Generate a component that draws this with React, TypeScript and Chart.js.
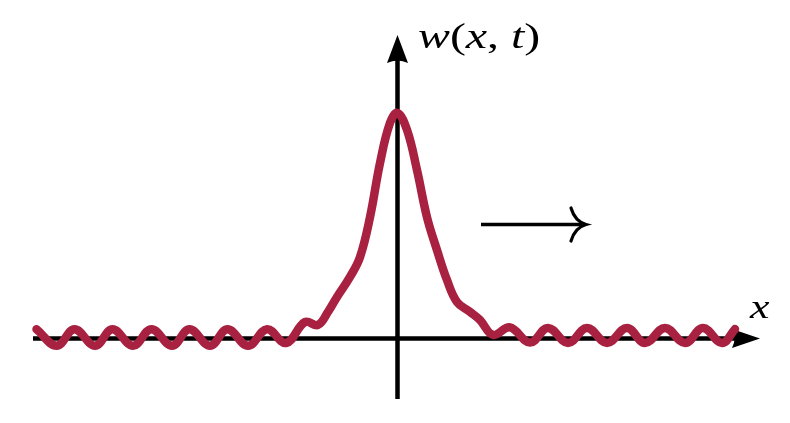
import React, { useEffect, useRef } from "react";
import { Chart, registerables } from "chart.js";

Chart.register(...registerables);

// Wave packet w(x, t): positions along x (period ≈ 1 unit) and heights (peak = 1)
const waveX = [
  -9.377, -8.852, -8.39, -7.857, -7.403, -6.87, -6.39, -5.857, -5.403, -4.87, -4.416, -3.883, -3.39,
  -2.896, -2.403, -2.065, -1.805, -1.571, -1.234, -0.974, -0.714, -0.455, -0.195, 0.0,
  0.247, 0.506, 0.766, 1.026, 1.286, 1.545, 1.883, 2.143, 2.481,
  2.922, 3.442, 3.909, 4.429, 4.922, 5.442, 5.961, 6.429, 6.948, 7.468, 7.935, 8.429, 8.766,
];
const waveY = [
  0.041, -0.032, 0.041, -0.032, 0.041, -0.032, 0.041, -0.032, 0.041, -0.032, 0.041, -0.032, 0.041,
  -0.02, 0.073, 0.06, 0.118, 0.184, 0.273, 0.361, 0.538, 0.778, 0.956, 1.0,
  0.925, 0.747, 0.538, 0.392, 0.259, 0.162, 0.118, 0.082, 0.016,
  0.049, -0.018, 0.047, -0.02, 0.047, -0.02, 0.047, -0.02, 0.047, -0.02, 0.047, -0.02, 0.042,
];

// Axis range
const X_MIN = -10.325;
const X_MAX = 10.195;
const Y_MIN = -0.3747;
const Y_MAX = 1.501;

// Decorations (data units)
const H_AXIS = { from: -9.468, tip: 9.416 };
const V_AXIS = { from: -0.268, tip: 1.346 };
const DIR_ARROW = { from: 2.169, to: 4.896, y: 0.5055 };
const Y_LABEL = { x: 0.532, y: 1.287 };
const X_LABEL = { x: 9.156, y: 0.0896 };

const CURVE = "rgb(168, 33, 64)";

type Part = [string, boolean];

function drawMath(ctx: CanvasRenderingContext2D, parts: Part[], left: number, baseline: number, size: number, stretch: number) {
  ctx.save();
  ctx.translate(left, baseline);
  ctx.scale(stretch, 1);
  ctx.textBaseline = "alphabetic";
  ctx.textAlign = "left";
  let cx = 0;
  for (const [t, it] of parts) {
    ctx.font = `${it ? "italic " : ""}${size}px "Liberation Serif", "DejaVu Serif", serif`;
    ctx.fillText(t, cx, 0);
    cx += ctx.measureText(t).width;
  }
  ctx.restore();
}

const decor = {
  id: "decor",
  beforeDatasetsDraw(chart: any) {
    const { ctx, scales } = chart;
    const px = (u: number) => scales.x.getPixelForValue(u);
    const py = (v: number) => scales.y.getPixelForValue(v);
    ctx.save();
    ctx.strokeStyle = "#000";
    ctx.fillStyle = "#000";

    // horizontal axis
    const y0 = py(0);
    const hx = px(H_AXIS.tip);
    ctx.lineWidth = 4.5;
    ctx.beginPath();
    ctx.moveTo(px(H_AXIS.from), y0);
    ctx.lineTo(hx - 20, y0);
    ctx.stroke();
    ctx.beginPath();
    ctx.moveTo(hx, y0);
    ctx.lineTo(hx - 28, y0 - 9.5);
    ctx.quadraticCurveTo(hx - 23, y0, hx - 28, y0 + 9.5);
    ctx.closePath();
    ctx.fill();

    // vertical axis
    const x0 = px(0);
    const vy = py(V_AXIS.tip);
    ctx.beginPath();
    ctx.moveTo(x0, py(V_AXIS.from));
    ctx.lineTo(x0, vy + 20);
    ctx.stroke();
    ctx.beginPath();
    ctx.moveTo(x0, vy);
    ctx.lineTo(x0 - 10.5, vy + 28);
    ctx.quadraticCurveTo(x0, vy + 23, x0 + 10.5, vy + 28);
    ctx.closePath();
    ctx.fill();

    // direction arrow
    const ay = py(DIR_ARROW.y);
    const ax1 = px(DIR_ARROW.to);
    ctx.lineWidth = 3.5;
    ctx.beginPath();
    ctx.moveTo(px(DIR_ARROW.from), ay);
    ctx.lineTo(ax1 - 2, ay);
    ctx.stroke();
    ctx.lineCap = "round";
    ctx.lineWidth = 3.2;
    ctx.beginPath();
    ctx.moveTo(ax1 - 15, ay - 16.5);
    ctx.quadraticCurveTo(ax1 - 11, ay - 3, ax1, ay);
    ctx.quadraticCurveTo(ax1 - 11, ay + 3, ax1 - 15, ay + 16.5);
    ctx.stroke();

    // labels
    drawMath(ctx, [["w", true], ["(", false], ["x", true], [",", false], [" ", false], ["t", true], [")", false]], px(Y_LABEL.x), py(Y_LABEL.y), 36, 1.33);
    drawMath(ctx, [["x", true]], px(X_LABEL.x), py(X_LABEL.y), 33, 1.33);
    ctx.restore();
  },
};

export default function App() {
  const ref = useRef<HTMLCanvasElement>(null);
  useEffect(() => {
    const chart = new Chart(ref.current as HTMLCanvasElement, {
      type: "line",
      data: {
        datasets: [
          {
            data: waveX.map((x, i) => ({ x, y: waveY[i] })),
            borderColor: CURVE,
            borderWidth: 8.5,
            pointRadius: 0,
            tension: 0.4,
            fill: false,
            borderCapStyle: "round",
            borderJoinStyle: "round",
          },
        ],
      },
      options: {
        animation: false,
        responsive: false,
        maintainAspectRatio: false,
        events: [],
        layout: { padding: 0 },
        plugins: { legend: { display: false }, tooltip: { enabled: false } },
        scales: {
          x: { type: "linear", min: X_MIN, max: X_MAX, display: false },
          y: { type: "linear", min: Y_MIN, max: Y_MAX, display: false },
        },
      },
      plugins: [decor],
    } as any);
    return () => chart.destroy();
  }, []);
  return (
    <div style={{ position: "absolute", left: 0, top: 0, width: 790, height: 423, background: "#fff" }}>
      <canvas ref={ref} width={790} height={423} style={{ display: "block", width: 790, height: 423 }} />
    </div>
  );
}
